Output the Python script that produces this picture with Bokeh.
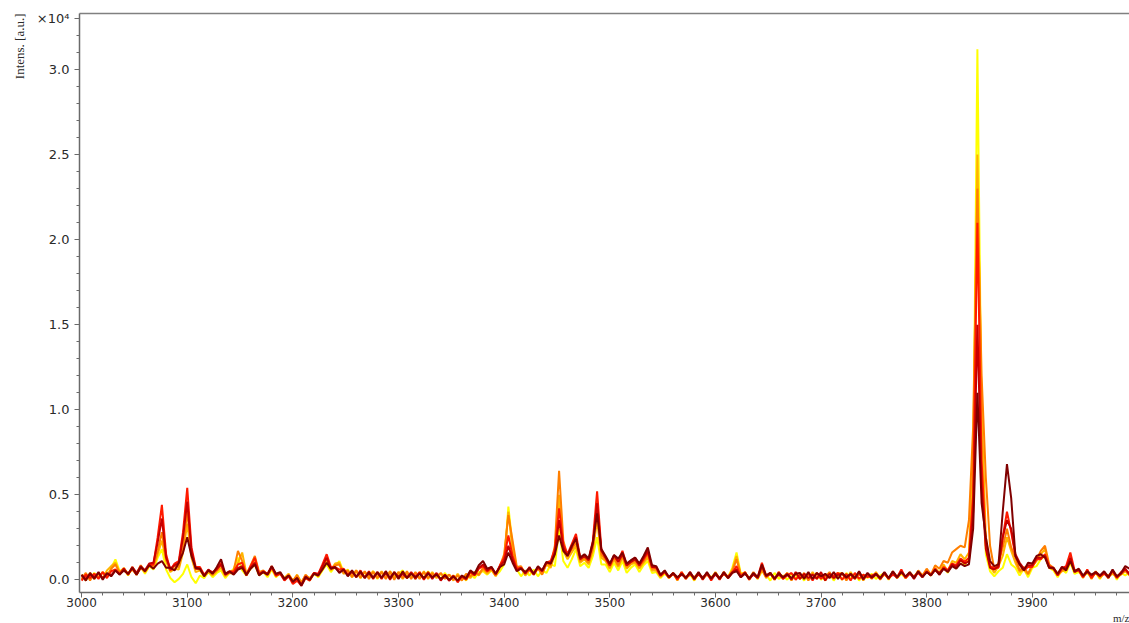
import numpy as np
from bokeh.plotting import figure
from bokeh.models import Range1d, FixedTicker, LinearAxis, Title, PrintfTickFormatter
from bokeh.embed import file_html
from bokeh.resources import INLINE

# m/z sampling grid (4 Da steps) shared by all spectra
mz = list(range(3000, 3993, 4))

# Intensities in a.u., one list per spectrum, rows of 40 Da
spec_yellow = [
    0, 350, 50, 400, 100, 450, 150, 700, 1200, 500,
    650, 250, 700, 300, 750, 350, 800, 600, 1300, 1800,
    600, 100, -150, 50, 350, 900, 150, -200, 250, 100,
    450, 150, 400, 550, 100, 400, 650, 1300, 550, 250,
    650, 900, 250, 450, 150, 600, 150, 400, 0, 250,
    -50, 200, -250, 150, -50, 350, 150, 550, 900, 450,
    800, 1100, 450, 600, 150, 500, 100, 450, 150, 500,
    50, 450, 100, 500, 150, 350, 550, 100, 400, 50,
    450, 100, 500, 150, 350, 50, 400, 0, 250, -50,
    200, -50, 350, 100, 450, 500, 300, 550, 250, 500,
    900, 4300, 2000, 600, 200, 550, 250, 600, 200, 550,
    400, 900, 800, 3000, 1100, 700, 1200, 1800, 800, 1000,
    700, 1400, 2500, 900, 900, 450, 1000, 550, 1100, 400,
    700, 900, 450, 850, 1100, 400, 450, 100, 350, 150,
    350, 50, 400, 100, 300, -50, 400, 50, 350, 150,
    350, 50, 450, 150, 700, 1600, 350, 400, 100, 350,
    50, 500, 300, -50, 400, 50, 250, 0, 350, 100,
    300, -50, 350, 50, 400, 0, 250, 350, -50, 300,
    0, 400, 50, 350, -50, 300, 100, 350, 50, 250,
    400, 0, 450, 100, 350, 100, 400, 150, 500, 200,
    500, 250, 650, 350, 800, 400, 1000, 650, 1200, 850,
    1300, 6000, 31200, 9000, 1500, 500, 200, 500, 700, 1500,
    900, 700, 250, 650, 150, 700, 800, 1200, 1400, 700,
    550, 150, 600, 400, 1000, 350, 450, 200, 400, 150,
    400, 50, 450, 100, 500, 0, 400, 250, 450,
]

spec_gold = [
    300, -50, 400, 50, 350, 100, 550, 800, 1000, 450,
    650, 350, 600, 300, 700, 450, 800, 750, 1500, 2300,
    1100, 450, 650, 600, 1600, 3300, 1300, 450, 550, 200,
    450, 250, 500, 700, 200, 400, 350, 1000, 1600, 350,
    750, 1200, 350, 500, 250, 700, 250, 350, 100, 350,
    -100, 300, -150, 250, 100, 350, 250, 600, 1100, 550,
    950, 1000, 350, 500, 250, 550, 150, 450, 200, 500,
    150, 500, 100, 400, 200, 450, 50, 400, 150, 400,
    100, 500, 50, 450, 100, 350, 150, 300, -50, 350,
    0, 300, 100, 450, 250, 600, 350, 600, 200, 700,
    1200, 4000, 1700, 650, 700, 250, 550, 300, 650, 350,
    900, 700, 1500, 5000, 1700, 1200, 1600, 2000, 1000, 1200,
    900, 1700, 3500, 1300, 1100, 650, 1200, 750, 1300, 650,
    900, 1000, 650, 1000, 1300, 550, 550, 150, 450, 100,
    400, -50, 450, 50, 400, 0, 350, 100, 400, 50,
    450, 50, 350, 100, 600, 1400, 300, 450, 0, 400,
    50, 600, 100, 350, 0, 450, 50, 400, -50, 350,
    50, 350, 0, 450, 50, 300, -50, 350, 100, 400,
    350, 0, 450, 50, 400, -50, 350, 100, 450, 50,
    300, 100, 450, 150, 500, 100, 450, 150, 500, 200,
    550, 250, 700, 400, 900, 500, 1100, 1000, 1500, 1200,
    1600, 7000, 25000, 10000, 2500, 800, 400, 800, 1400, 2500,
    1700, 1000, 450, 600, 300, 800, 1100, 1500, 1800, 800,
    650, 250, 500, 550, 1100, 450, 550, 100, 500, 50,
    450, 100, 400, 200, 350, 150, 300, 500, 250,
]

spec_orange = [
    50, 400, -50, 350, 150, 450, 200, 650, 900, 400,
    700, 300, 750, 350, 850, 450, 900, 800, 1700, 2800,
    1200, 550, 800, 750, 1900, 4000, 1500, 650, 650, 250,
    550, 300, 550, 900, 250, 450, 550, 1700, 1100, 300,
    850, 1400, 450, 550, 300, 800, 200, 400, 50, 300,
    -50, 250, -200, 300, 50, 400, 200, 700, 1200, 650,
    850, 900, 400, 550, 150, 550, 100, 500, 50, 450,
    100, 450, 50, 500, 0, 450, 100, 500, 50, 450,
    50, 450, 100, 350, 200, 400, 50, 300, 0, 250,
    -50, 350, 200, 450, 300, 700, 450, 650, 250, 800,
    1500, 3800, 2300, 750, 800, 350, 600, 400, 700, 300,
    1000, 850, 2000, 6400, 2300, 1400, 1800, 2200, 1100, 1300,
    1000, 1900, 4000, 1500, 1200, 750, 1300, 850, 1400, 750,
    1000, 1100, 750, 1100, 1500, 650, 650, 200, 450, 100,
    350, 50, 400, 100, 300, 150, 400, 50, 300, 50,
    400, 100, 350, 200, 500, 1200, 300, 400, 50, 450,
    100, 600, 150, 400, 50, 300, 150, 400, 0, 400,
    50, 400, -50, 350, 100, 300, 150, 450, 50, 300,
    400, -50, 350, 100, 300, 150, 300, 50, 400, 0,
    400, 50, 500, 150, 400, 150, 400, 100, 550, 250,
    650, 300, 850, 650, 1100, 1000, 1600, 1800, 2000, 1900,
    3500, 9000, 23000, 12000, 6000, 2000, 600, 1000, 1900, 3000,
    1900, 1300, 550, 750, 350, 900, 1200, 1700, 2000, 900,
    700, 350, 550, 700, 1200, 550, 600, 150, 550, 100,
    500, 150, 350, 250, 450, 200, 350, 550, 300,
]

spec_red = [
    -50, 300, 100, 350, 50, 450, 100, 500, 600, 350,
    550, 350, 650, 300, 700, 550, 850, 900, 2500, 4400,
    1500, 550, 950, 1100, 2800, 5400, 1900, 750, 750, 300,
    550, 450, 600, 1000, 350, 500, 450, 900, 1000, 300,
    800, 1300, 350, 450, 300, 700, 250, 350, -50, 200,
    -250, -50, -350, 100, -50, 400, 350, 900, 1500, 750,
    750, 600, 650, 300, 500, 150, 550, 100, 500, 50,
    450, 50, 500, 0, 450, 100, 350, 150, 400, 200,
    450, 0, 400, 150, 350, 0, 250, -50, 250, -150,
    200, 0, 450, 250, 650, 800, 500, 700, 300, 850,
    1300, 2600, 1400, 650, 700, 450, 600, 350, 700, 550,
    1000, 1100, 1800, 4200, 2100, 1500, 2100, 2700, 1300, 1400,
    1200, 2300, 5200, 1800, 1300, 850, 1400, 1100, 1700, 850,
    1100, 1300, 850, 1200, 1600, 750, 700, 250, 450, 150,
    400, 0, 450, 50, 450, 0, 400, 0, 400, -50,
    350, 0, 450, 100, 400, 800, 200, 450, 0, 350,
    150, 1000, 250, 400, 0, 450, 50, 250, 400, 0,
    300, 150, 350, -50, 400, 50, 300, 150, 250, 400,
    0, 350, -50, 400, 50, 300, 150, 250, 350, 100,
    350, 100, 300, 150, 600, 100, 350, 200, 400, 150,
    500, 250, 650, 300, 750, 550, 950, 850, 1250, 1050,
    1300, 5000, 21000, 7000, 2000, 800, 700, 700, 2500, 4000,
    2800, 1400, 900, 550, 750, 750, 1200, 1200, 1500, 800,
    700, 250, 650, 800, 1600, 550, 550, 150, 600, 100,
    450, 250, 350, 150, 550, 100, 450, 600, 350,
]

spec_crimson = [
    250, 50, 300, 150, 400, 100, 350, 250, 550, 300,
    650, 300, 750, 400, 800, 550, 950, 1000, 2200, 3600,
    1300, 650, 850, 1000, 2500, 4600, 1700, 650, 650, 250,
    600, 400, 650, 900, 300, 450, 350, 700, 800, 250,
    700, 1000, 300, 500, 350, 800, 300, 400, 0, 250,
    -150, 100, -300, 200, 0, 400, 300, 800, 1300, 650,
    700, 450, 600, 250, 450, 200, 400, 150, 350, 150,
    400, 150, 350, 150, 400, 200, 350, 100, 450, 50,
    400, 50, 450, 50, 400, -50, 300, -50, 200, -50,
    200, 50, 500, 300, 700, 900, 550, 750, 350, 800,
    1100, 2000, 1200, 550, 700, 350, 750, 300, 750, 500,
    1000, 950, 1600, 3500, 1900, 1400, 1900, 2500, 1200, 1400,
    1150, 2100, 4500, 1700, 1300, 850, 1450, 1050, 1500, 850,
    1050, 1200, 850, 1300, 1700, 750, 750, 250, 500, 150,
    350, 100, 300, 150, 350, 100, 300, 150, 350, 100,
    300, 100, 350, 150, 450, 600, 150, 350, 100, 300,
    100, 800, 200, 350, 100, 300, 100, 350, 0, 450,
    50, 350, 100, 300, 50, 450, -50, 350, 100, 300,
    350, 100, 300, 50, 450, 0, 350, 100, 300, 50,
    400, 50, 450, 100, 500, 150, 400, 50, 450, 200,
    450, 300, 550, 400, 650, 500, 900, 750, 1150, 950,
    1100, 4000, 15000, 5500, 1800, 700, 600, 800, 2500, 3500,
    3000, 1500, 1000, 650, 850, 850, 1300, 1300, 1400, 700,
    650, 300, 750, 650, 1300, 450, 600, 200, 450, 250,
    400, 200, 450, 100, 550, 150, 350, 650, 300,
]

spec_darkred = [
    300, -50, 400, 50, 450, 0, 400, 200, 550, 300,
    550, 350, 700, 300, 750, 500, 850, 650, 950, 1100,
    700, 700, 550, 1000, 1600, 2500, 1400, 700, 650, 200,
    550, 350, 750, 1200, 350, 500, 300, 600, 700, 300,
    650, 900, 250, 450, 300, 800, 350, 450, 50, 250,
    -100, 100, -350, 150, 0, 350, 250, 600, 1000, 650,
    750, 400, 600, 200, 550, 150, 500, 100, 450, 100,
    450, 100, 500, 50, 450, 50, 500, 100, 350, 150,
    350, 100, 350, 150, 300, 50, 250, 0, 200, -50,
    250, 100, 550, 350, 850, 1100, 650, 750, 350, 750,
    900, 1600, 1000, 500, 650, 450, 700, 350, 800, 550,
    1050, 950, 1500, 2600, 1700, 1400, 2000, 2400, 1300, 1500,
    1250, 2200, 3900, 1800, 1400, 950, 1450, 1250, 1600, 950,
    1150, 1300, 950, 1400, 1900, 850, 800, 300, 550, 150,
    400, 150, 350, 100, 450, 50, 450, 50, 450, 50,
    400, 50, 450, 100, 400, 500, 150, 400, 50, 400,
    150, 900, 250, 400, 50, 400, 150, 300, 100, 350,
    400, 50, 450, 50, 400, 200, 350, 100, 450, 50,
    400, 150, 350, 100, 500, 50, 400, 150, 350, 100,
    450, 100, 500, 150, 450, 200, 450, 100, 500, 150,
    450, 250, 600, 300, 650, 450, 800, 650, 950, 800,
    900, 3000, 11000, 4500, 2500, 1100, 800, 900, 4000, 6800,
    4800, 1400, 900, 550, 1000, 950, 1400, 1500, 1300, 700,
    700, 350, 750, 550, 1100, 500, 650, 250, 500, 300,
    450, 250, 500, 150, 600, 200, 400, 800, 650,
]

spectra = [
    (spec_yellow, "#FFFF00"),
    (spec_gold, "#FFB400"),
    (spec_orange, "#FF7F00"),
    (spec_red, "#FF1A00"),
    (spec_crimson, "#C80000"),
    (spec_darkred, "#800000"),
]

y_major = [0.0, 0.5, 1.0, 1.5, 2.0, 2.5, 3.0, 3.3]
y_minor = [i / 10 for i in range(34)]
x_major = list(range(3000, 4000, 100))
x_minor = list(range(3000, 4000, 20))

AXIS_COLOR = "#6a6a6a"
LABEL_COLOR = "#2a2a2a"

p = figure(
    width=1129, height=623,
    x_range=Range1d(2998, 3992), y_range=Range1d(-0.075, 3.33),
    output_backend="svg", toolbar_location=None,
    min_border_left=79, min_border_right=0, min_border_top=13, min_border_bottom=31,
    background_fill_color="white", border_fill_color="white",
)
p.outline_line_color = None
p.grid.grid_line_color = None

for values, color in spectra:
    p.line(mz, np.array(values) / 1e4, line_color=color, line_width=2)

# y axis: intensity in units of 10^4
ya = p.yaxis[0]
ya.ticker = FixedTicker(ticks=y_major, minor_ticks=y_minor)
ya.formatter = PrintfTickFormatter(format="%.1f")
ya.major_label_overrides = {3.3: "×10⁴"}

# x axis: m/z
xa = p.xaxis[0]
xa.ticker = FixedTicker(ticks=x_major, minor_ticks=x_minor)

for ax in (xa, ya):
    ax.axis_line_color = AXIS_COLOR
    ax.axis_line_width = 1.5
    ax.major_tick_line_color = AXIS_COLOR
    ax.minor_tick_line_color = AXIS_COLOR
    ax.major_tick_in = 0
    ax.minor_tick_in = 0
    ax.major_tick_out = 5
    ax.minor_tick_out = 3
    ax.major_label_text_font = "DejaVu Sans"
    ax.major_label_text_color = LABEL_COLOR
ya.major_label_text_font_size = "13px"
xa.major_label_text_font_size = "12px"
ya.major_label_standoff = 5
xa.major_label_standoff = 0

# plain top border line
top = LinearAxis(axis_line_color="#808080", axis_line_width=1.5,
                 major_tick_line_color=None, minor_tick_line_color=None,
                 major_label_text_font_size="0px", ticker=FixedTicker(ticks=[]))
p.add_layout(top, "above")

# vertical intensity label at the top of the left margin
p.add_layout(Title(text="Intens. [a.u.]", align="right", vertical_align="top",
                   text_font="Liberation Serif", text_font_size="13px",
                   text_font_style="normal", text_color=LABEL_COLOR), "left")

# m/z label at the right end, under the tick labels
p.add_layout(Title(text="m/z", align="right", standoff=0,
                   text_font="Liberation Serif", text_font_size="11px",
                   text_font_style="normal", text_color=LABEL_COLOR), "below")

open("out.html", "w").write(file_html(p, INLINE))
